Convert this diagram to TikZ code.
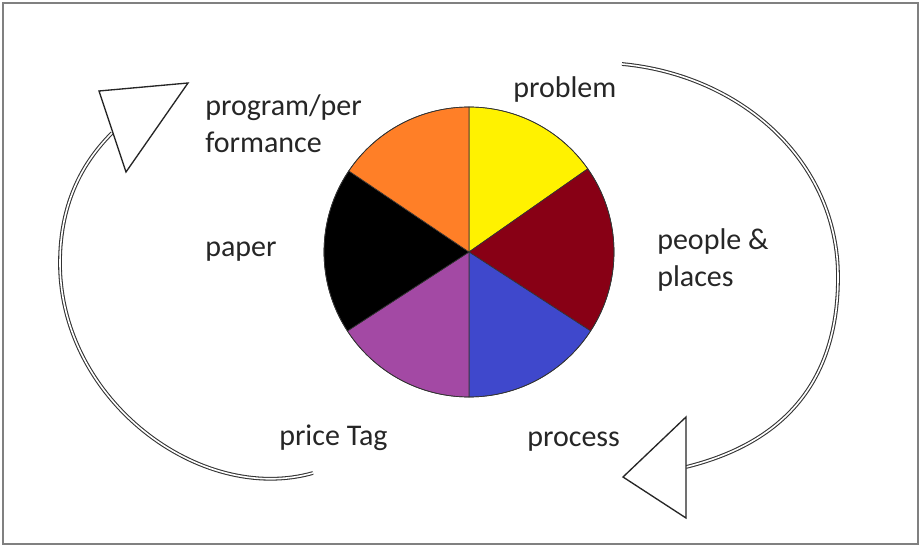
\documentclass[tikz,border=0pt]{standalone}
\usepackage{fontspec}
\setmainfont{Carlito}
\usepackage{tikz}

\definecolor{pieyellow}{HTML}{FFF200}
\definecolor{piemaroon}{HTML}{880015}
\definecolor{pieblue}{HTML}{3F48CC}
\definecolor{piepurple}{HTML}{A349A4}
\definecolor{pieorange}{HTML}{FF7F27}

\tikzset{
	lbl/.style={inner sep=0pt, anchor=west, align=left, text=black!85, font=\fontsize{22.5}{27.75}\selectfont},
	slice/.style={draw=black!80, line width=0.5pt},
	cyclearc/.style={draw=black!80, line width=0.8pt, double=white, double distance=1.2pt},
	cyclehead/.style={draw=black!85, fill=white, line width=1pt, line join=miter}
}

\begin{document}
\begin{tikzpicture}[x=0.75pt,y=0.75pt]
			\useasboundingbox (0,0) rectangle (921,547);
			\draw[gray,line width=1.5pt] (3,3) rectangle (918,544);

			% the pie
			\coordinate (c) at (469,295);
			\fill[slice,fill=pieyellow] (c) -- ++(90:145) arc (90:35:145) -- cycle;
			\fill[slice,fill=piemaroon] (c) -- ++(35:145) arc (35:-33:145) -- cycle;
			\fill[slice,fill=pieblue] (c) -- ++(-33:145) arc (-33:-90:145) -- cycle;
			\fill[slice,fill=piepurple] (c) -- ++(-90:145) arc (-90:-147:145) -- cycle;
			\fill[slice,fill=black] (c) -- ++(213:145) arc (213:146:145) -- cycle;
			\fill[slice,fill=pieorange] (c) -- ++(146:145) arc (146:90:145) -- cycle;
			\draw[slice] (c) circle (145);

			% labels
			\node[lbl] (problem) at (513,457) {problem};
			\node[lbl] (program) at (205,423) {program/per\\formance};
			\node[lbl] (paper) at (205,295) {paper};
			\node[lbl] (people) at (657,287) {people \&\\places};
			\node[lbl] (process) at (527,105) {process};
			\node[lbl] (price) at (279,109) {price Tag};

			% right arrow
			\coordinate (rs) at (622,483);
			\coordinate (re) at (686,80);
			\draw[cyclearc] (rs) .. controls (740,472) and (838,387) .. (838,270)
				.. controls (838,157) and (775,102) .. (re);
			\draw[cyclehead] (686,130) -- (686,29) -- (623,70) -- cycle;

			% left arrow
			\coordinate (ls) at (313,74);
			\coordinate (le) at (112,414);
			\draw[cyclearc] (ls) .. controls (200,42) and (60,147) .. (60,284)
				.. controls (60,347) and (85,387) .. (le);
			\draw[cyclehead] (99,456) -- (188,464) -- (126,375) -- cycle;
		\end{tikzpicture}
\end{document}
